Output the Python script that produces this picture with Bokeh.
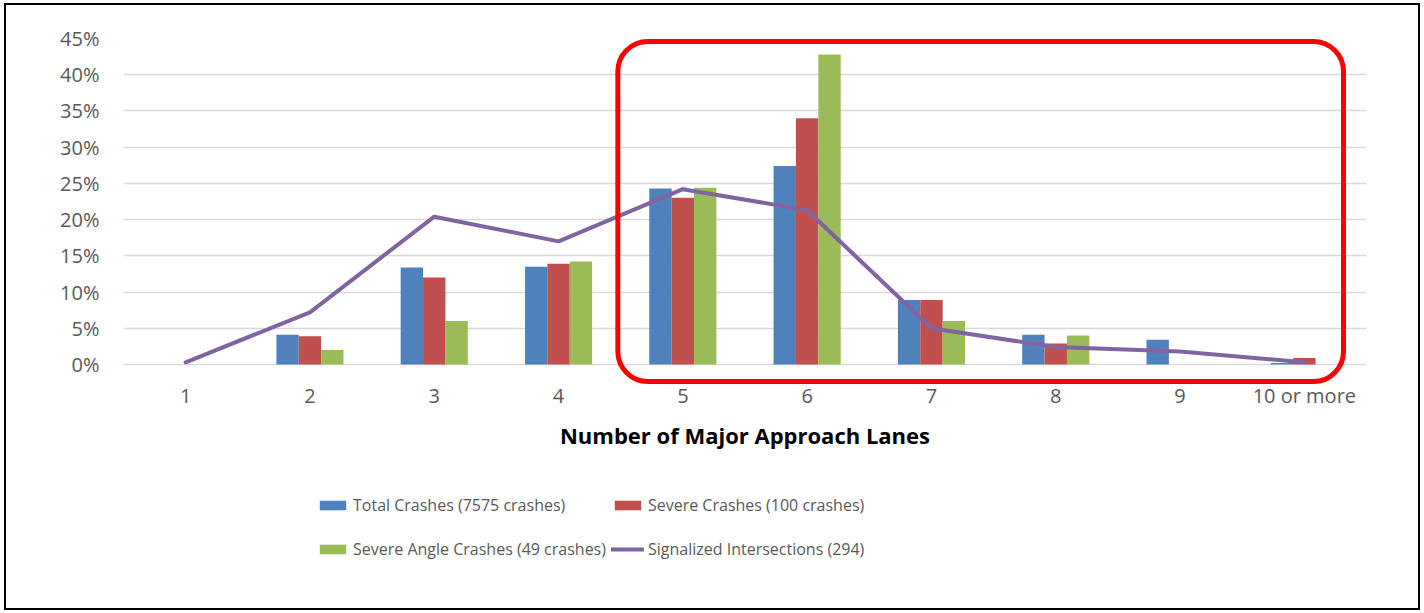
from bokeh.plotting import figure
from bokeh.layouts import column
from bokeh.models import (FactorRange, Range1d, FixedTicker, PrintfTickFormatter,
                          Legend, LegendItem, BoxAnnotation, ColumnDataSource)
from bokeh.transform import dodge
from bokeh.embed import file_html
from bokeh.resources import INLINE

categories = ["1", "2", "3", "4", "5", "6", "7", "8", "9", "10 or more"]
total_crashes = [0.0, 4.1, 13.4, 13.5, 24.3, 27.4, 8.9, 4.1, 3.4, 0.2]
severe_crashes = [0.0, 3.9, 12.0, 13.9, 23.0, 34.0, 8.9, 2.9, 0.0, 0.9]
severe_angle = [0.0, 2.0, 6.0, 14.2, 24.4, 42.8, 6.0, 4.0, 0.0, 0.0]
signalized = [0.3, 7.2, 20.4, 17.0, 24.2, 21.3, 5.0, 2.4, 1.8, 0.3]
y_ticks = [0, 5, 10, 15, 20, 25, 30, 35, 40, 45]
series_names = ["Total Crashes (7575 crashes)", "Severe Crashes (100 crashes)",
                "Severe Angle Crashes (49 crashes)", "Signalized Intersections (294)"]
colors = ["#4F81BD", "#C0504D", "#9BBB59", "#8064A2"]

src = ColumnDataSource(dict(cat=categories, total=total_crashes, severe=severe_crashes,
                            angle=severe_angle, sig=signalized))

FONT = "Open Sans"
TXT = "#595959"
bw = 0.18


def add_series(fig, visible=True):
    rs = [
        fig.vbar(x=dodge("cat", -bw, range=fig.x_range), top="total", width=bw, source=src,
                 fill_color=colors[0], line_color=None, visible=visible),
        fig.vbar(x=dodge("cat", 0, range=fig.x_range), top="severe", width=bw, source=src,
                 fill_color=colors[1], line_color=None, visible=visible),
        fig.vbar(x=dodge("cat", bw, range=fig.x_range), top="angle", width=bw, source=src,
                 fill_color=colors[2], line_color=None, visible=visible),
        fig.line(x="cat", y="sig", source=src, line_color=colors[3], line_width=4,
                 line_join="round", line_cap="round", visible=visible),
    ]
    return rs


p = figure(width=1412, height=465, output_backend="svg", toolbar_location=None,
           x_range=FactorRange(*categories, range_padding=0),
           y_range=Range1d(-2.9, 45),
           min_border_left=117, min_border_right=52, min_border_top=33, min_border_bottom=85)
p.outline_line_color = None
p.background_fill_color = "white"
p.border_fill_color = "white"

add_series(p)

p.xgrid.grid_line_color = None
p.ygrid.grid_line_color = "#D9D9D9"
p.ygrid.grid_line_width = 1.3
p.yaxis.ticker = FixedTicker(ticks=y_ticks)
p.yaxis.formatter = PrintfTickFormatter(format="%d%%")
p.yaxis.axis_line_color = None
p.yaxis.major_tick_line_color = None
p.yaxis.minor_tick_line_color = None
p.yaxis.major_label_standoff = 18
p.yaxis.major_label_text_font = FONT
p.yaxis.major_label_text_font_size = "20px"
p.yaxis.major_label_text_color = TXT

p.xaxis.axis_line_color = None
p.xaxis.major_tick_line_color = None
p.xaxis.major_label_standoff = -10
p.xaxis.major_label_text_font = FONT
p.xaxis.major_label_text_font_size = "20px"
p.xaxis.major_label_text_color = TXT
p.xaxis.axis_label = "Number of Major Approach Lanes"
p.xaxis.axis_label_text_font = FONT
p.xaxis.axis_label_text_font_style = "bold"
p.xaxis.axis_label_text_font_size = "22px"
p.xaxis.axis_label_text_color = "black"
p.xaxis.axis_label_standoff = 8

p.add_layout(BoxAnnotation(left=3.977, right=9.815, bottom=-2.35, top=44.6,
                           fill_color=None, line_color="#FF0000", line_alpha=1.0,
                           line_width=5, border_radius=30))

# legend panel (separate figure below the chart; its series are hidden)
lf = figure(width=1412, height=138, output_backend="svg", toolbar_location=None,
            x_range=FactorRange(*categories), y_range=Range1d(0, 1),
            min_border_left=0, min_border_right=0, min_border_top=0, min_border_bottom=0)
lf.axis.visible = False
lf.grid.visible = False
lf.outline_line_color = None
lf.border_fill_color = "white"
lrs = add_series(lf, visible=False)

legend = Legend(items=[LegendItem(label=n, renderers=[g]) for n, g in zip(series_names, lrs)],
                orientation="horizontal", ncols=2, location=(193, 39.5),
                glyph_width=33, glyph_height=12, label_height=39, label_standoff=4,
                spacing=5, padding=0, margin=0, border_line_color=None,
                background_fill_alpha=0, inactive_fill_alpha=0,
                label_text_font=FONT, label_text_font_size="16px", label_text_color=TXT)
lf.add_layout(legend, "center")

layout = column(p, lf, spacing=0)
layout.styles = {"outline": "2px solid black", "margin-left": "6px", "margin-top": "5px"}

open("out.html", "w").write(file_html(layout, INLINE))
